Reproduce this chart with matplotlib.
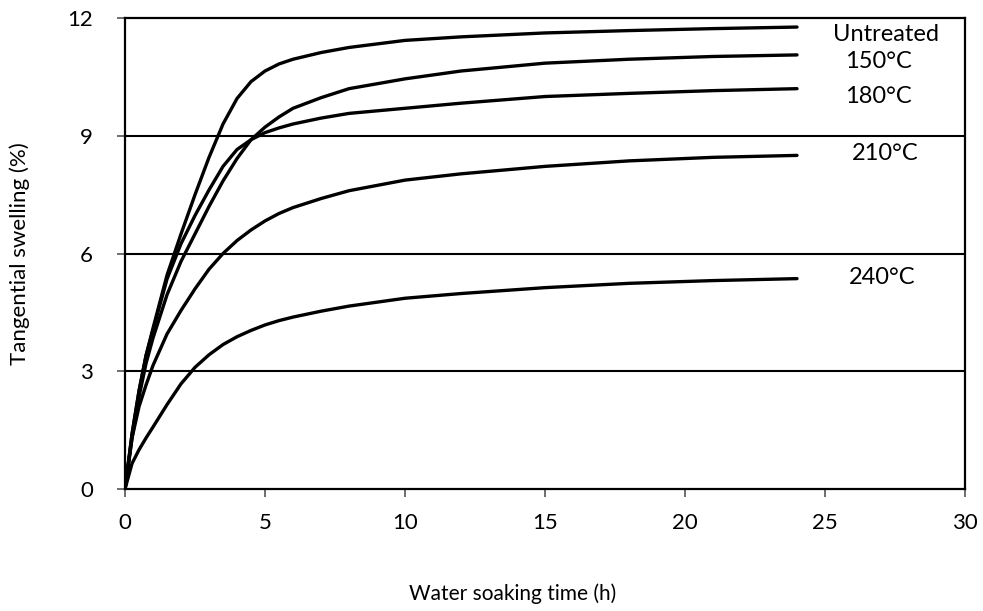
import numpy as np
import matplotlib.pyplot as plt

plt.rcParams['font.family'] = ['Lato', 'DejaVu Sans']

# soaking time (h)
t = [0, 0.25, 0.5, 0.75, 1, 1.5, 2, 2.5, 3, 3.5, 4, 4.5, 5, 5.5, 6, 7, 8, 10, 12, 15, 18, 21, 24]

# tangential swelling (%)
untreated = [0, 1.4, 2.5, 3.4, 4.1, 5.45, 6.5, 7.5, 8.45, 9.3, 9.95, 10.38, 10.65, 10.83, 10.95,
             11.12, 11.25, 11.43, 11.52, 11.62, 11.68, 11.73, 11.77]
t150 = [0, 1.3, 2.35, 3.2, 3.85, 4.95, 5.8, 6.5, 7.2, 7.85, 8.42, 8.9, 9.22, 9.48, 9.7,
        9.97, 10.2, 10.45, 10.65, 10.85, 10.95, 11.02, 11.06]
t180 = [0, 1.4, 2.5, 3.4, 4.05, 5.35, 6.25, 6.97, 7.62, 8.22, 8.65, 8.9, 9.08, 9.2, 9.3,
        9.45, 9.57, 9.7, 9.83, 10.0, 10.08, 10.15, 10.2]
t210 = [0, 1.3, 2.1, 2.65, 3.15, 3.95, 4.55, 5.1, 5.6, 6.0, 6.33, 6.6, 6.83, 7.02, 7.17,
        7.4, 7.6, 7.87, 8.03, 8.22, 8.36, 8.45, 8.5]
t240 = [0, 0.65, 1.0, 1.3, 1.58, 2.15, 2.68, 3.1, 3.42, 3.68, 3.88, 4.04, 4.18, 4.29, 4.38,
        4.53, 4.66, 4.86, 4.98, 5.13, 5.24, 5.31, 5.36]

series = [untreated, t150, t180, t210, t240]
names = ["Untreated", "150°C", "180°C", "210°C", "240°C"]
# where each name sits (x, y in data units)
label_pos = [(25.3, 11.57), (25.7, 10.88), (25.7, 9.99), (25.95, 8.56), (25.85, 5.38)]

fig = plt.figure(figsize=(9.83, 6.11), dpi=100)
ax = fig.add_axes([0.1272, 0.1997, 0.8545, 0.7708])

for y in [3, 6, 9]:
    ax.axhline(y, color='black', lw=1.5, zorder=1)

for vals in series:
    ax.plot(t, vals, color='black', lw=2.4, solid_capstyle='round', solid_joinstyle='round', zorder=3)

for name, (x, y) in zip(names, label_pos):
    ax.text(x, y, name, fontsize=17, ha='left', va='center')

ax.set_xlim(0, 30)
ax.set_ylim(0, 12)
ax.set_xticks(np.arange(0, 31, 5))
ax.set_yticks(np.arange(0, 13, 3))
ax.tick_params(axis='both', labelsize=16, width=1.2, length=6, direction='out', color='#555555')
ax.tick_params(axis='x', pad=11)
ax.tick_params(axis='y', pad=17)
for s in ax.spines.values():
    s.set_linewidth(1.6)

ax.set_xlabel("Water soaking time (h)", fontsize=15)
ax.set_ylabel("Tangential swelling (%)", fontsize=16)
ax.xaxis.set_label_coords(0.462, -0.2)
ax.yaxis.set_label_coords(-0.113, 0.5)

fig.savefig("out.png", dpi=100)
